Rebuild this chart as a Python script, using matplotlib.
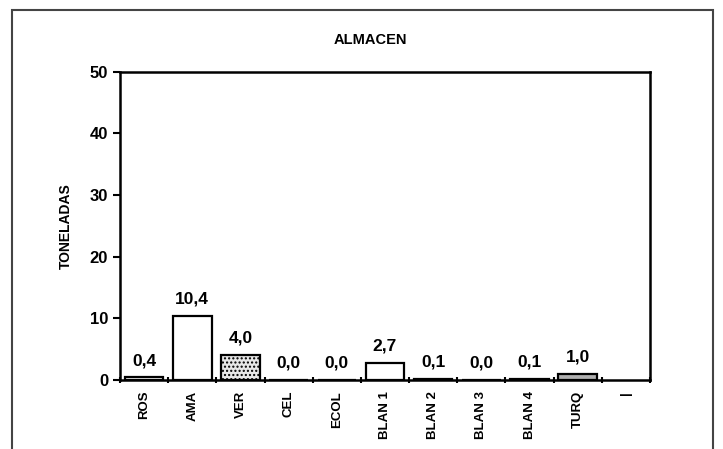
import matplotlib.pyplot as plt
from matplotlib.patches import Rectangle
import numpy as np

plt.rcParams['font.family'] = ['Liberation Sans', 'DejaVu Sans']

# tonnes stored per colour category
categorias = ["ROS", "AMA", "VER", "CEL", "ECOL", "BLAN 1", "BLAN 2", "BLAN 3", "BLAN 4", "TURQ", "|"]
toneladas = [0.4, 10.4, 4.0, 0.0, 0.0, 2.7, 0.1, 0.0, 0.1, 1.0, None]
etiquetas = ["0,4", "10,4", "4,0", "0,0", "0,0", "2,7", "0,1", "0,0", "0,1", "1,0", ""]
rellenos = ["white", "white", "#e8e8e8", "white", "white", "white", "white", "white", "white", "#b0b0b0", "white"]
tramas = [None, None, "....", None, None, None, None, None, None, None, None]

fig = plt.figure(figsize=(7.23, 4.49), dpi=100)
ax = fig.add_axes([0.166, 0.154, 0.733, 0.686])

# outer frame around the chart area (open at the bottom)
fig.patches.append(Rectangle((12 / 723, -0.05), 701 / 723, 1.05 - 10 / 449,
                             transform=fig.transFigure, fill=False,
                             edgecolor="#444444", linewidth=1.5))

x = np.arange(len(categorias))
for i, v in enumerate(toneladas):
    if v is None:
        continue
    ax.bar(x[i], v, width=0.8, color=rellenos[i], edgecolor="black",
           linewidth=1.6, hatch=tramas[i])
    ax.text(x[i], v + 1.5, etiquetas[i], ha="center", va="bottom",
            fontsize=12.5, fontweight="bold")

ax.set_xlim(-0.5, len(categorias) - 0.5)
ax.set_ylim(0, 50)
ax.set_yticks([0, 10, 20, 30, 40, 50])
ax.set_yticklabels(["0", "10", "20", "30", "40", "50"], fontsize=12, fontweight="bold")

# category ticks sit on the boundaries, labels in the middle
ax.set_xticks(np.arange(len(categorias) + 1) - 0.5)
ax.set_xticklabels([])
ax.set_xticks(x, minor=True)
ax.set_xticklabels(categorias, minor=True, rotation=90, fontsize=9.5, fontweight="bold")
ax.tick_params(axis="x", which="minor", length=0, pad=8)
ax.tick_params(axis="x", which="major", length=5, width=1.5, direction="inout")
ax.tick_params(axis="y", length=5, width=1.5, direction="out")

for s in ax.spines.values():
    s.set_linewidth(1.8)

ax.set_ylabel("TONELADAS", fontsize=10, fontweight="bold", labelpad=12)
fig.text(370 / 723, 1 - 40 / 449, "ALMACEN", ha="center", va="center",
         fontsize=10.5, fontweight="bold")

fig.savefig("out.png", dpi=100)
